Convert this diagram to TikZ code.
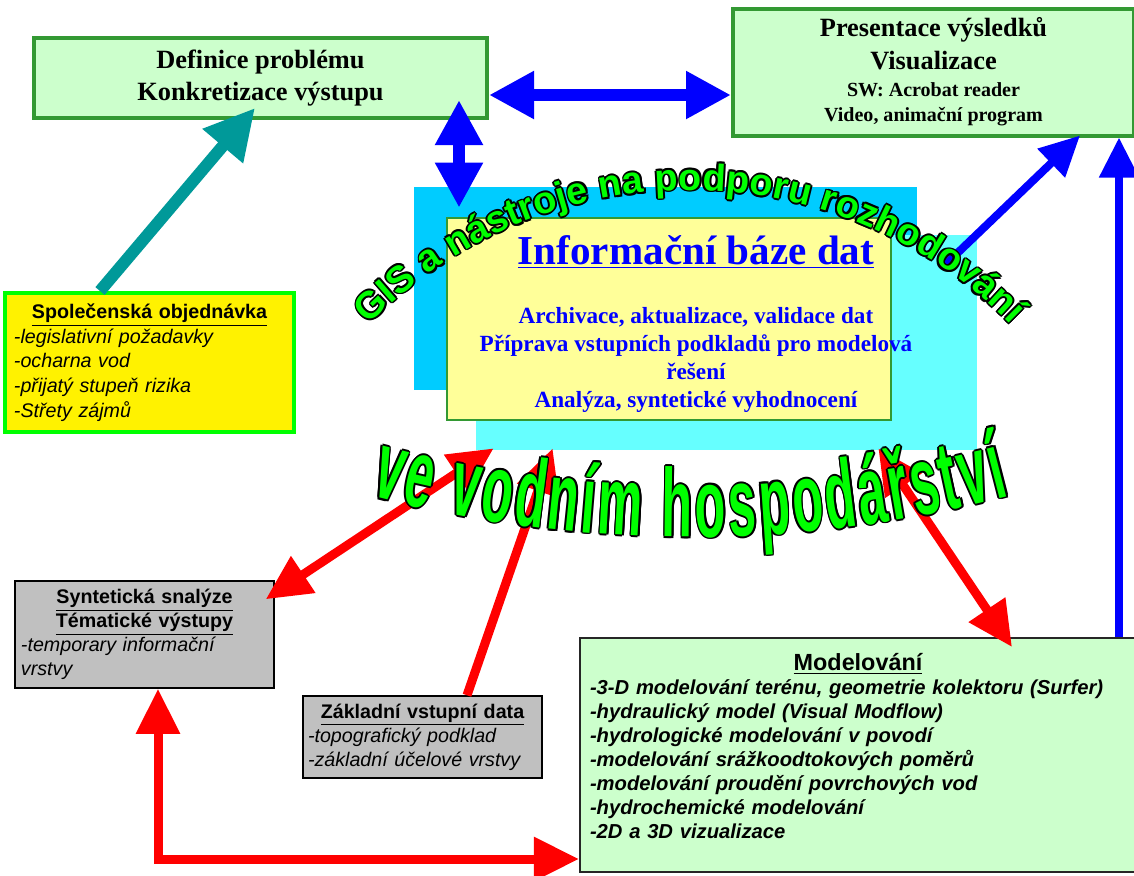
\documentclass[tikz,border=0pt]{standalone}
\usepackage{fontspec}
\setmainfont{Liberation Serif}
\setsansfont{Liberation Sans}
\newfontfamily\arcfont{Liberation Sans}
\newfontfamily\narrowfont[FakeStretch=0.52]{Liberation Sans}
\usetikzlibrary{arrows.meta,calc,decorations.text}
\definecolor{panelgreen}{RGB}{204,255,204}
\definecolor{framegreen}{RGB}{51,153,51}
\definecolor{vividgreen}{RGB}{0,255,0}
\definecolor{paleyellow}{RGB}{255,255,153}
\definecolor{skyblue}{RGB}{0,204,255}
\definecolor{lightcyan}{RGB}{102,255,255}
\definecolor{panelgrey}{RGB}{192,192,192}
\definecolor{tealgreen}{RGB}{0,153,153}
\tikzset{
  goalbox/.style={draw=framegreen, line width=0.8mm, fill=panelgreen, align=center,
    inner sep=0pt, font=\fontsize{15}{18.5}\selectfont\bfseries},
  greybox/.style={draw=black, line width=0.3mm, fill=panelgrey, align=left,
    inner xsep=1.2mm, inner ysep=0pt, font=\sffamily\fontsize{11.2}{13.7}\selectfont},
  backrect/.style={inner sep=0pt},
  bluelink/.style={draw=blue, line width=2.4mm, >={Triangle[length=9mm,width=9mm]}},
  thinblue/.style={draw=blue, line width=1.6mm, >={Triangle[length=8mm,width=7.6mm]}},
  redlink/.style={draw=red, line width=1.8mm, >={Triangle[length=9mm,width=8.4mm]}},
  teallink/.style={draw=tealgreen, line width=2.4mm, >={Triangle[length=10mm,width=10mm]}}
}
\newcommand\boxhead[1]{{\centering\bfseries\underline{#1}\par}}
\newcommand\swline{\fontsize{11.4}{13}\selectfont}
\newcommand\gisfont{\arcfont\bfseries\fontsize{21.5}{21.5}\selectfont}
\newcommand\vodfont{\narrowfont\bfseries\fontsize{55}{55}\selectfont}
\newcommand\gisline[1]{%
  \path[decorate, decoration={text along path, text align=fit to path,
    text={|\gisfont\color{#1}|GIS a nástroje na podporu rozhodování}}]
    (690,640) ++(-135.5:450) arc[start angle=-135.5, end angle=-44.5, radius=450];}
\newcommand\vodline[1]{%
  \path[decorate, decoration={text along path, text align=fit to path,
    text={|\vodfont\color{#1}|ve vodním hospodářství}}]
    (690,-724) ++(104.7:1261) arc[start angle=104.7, end angle=75.3, radius=1261];}

\begin{document}
\begin{tikzpicture}[x=0.2mm, y=-0.2mm]
\useasboundingbox (0,0) rectangle (1134,875);

% database block
\node[backrect, fill=skyblue, minimum width=100.6mm, minimum height=40.6mm] (base) at (665.5,288.5) {};
\node[backrect, fill=lightcyan, minimum width=100.2mm, minimum height=43mm] (halo) at (726.5,342.5) {};
\node[draw=framegreen, line width=0.4mm, fill=paleyellow, minimum width=88.8mm, minimum height=40.4mm]
  (info) at (669,319) {};
\node[align=center, inner sep=0pt, text=blue, font=\fontsize{13.2}{16}\selectfont\bfseries]
  (infotext) at ($(info)+(27,5)$) {{\fontsize{23.4}{26}\selectfont\underline{Informační báze dat}}\\[6.2mm]
  Archivace, aktualizace, validace dat\\
  Příprava vstupních podkladů pro modelová\\
  řešení\\
  Analýza, syntetické vyhodnocení};

% boxes
\node[goalbox, minimum width=90.6mm, minimum height=16mm] (def) at (260.5,78)
  {Definice problému\\Konkretizace výstupu};
\node[goalbox, minimum width=80.2mm, minimum height=25.4mm] (pres) at (933.5,72)
  {Presentace výsledků\\Visualizace\\[-3pt]\swline SW: Acrobat reader\\[-4pt]\swline Video, animační program};
\node[draw=vividgreen, line width=0.8mm, fill=yellow, minimum width=57.8mm, minimum height=27.8mm,
  text width=54.2mm, inner xsep=1.8mm, inner ysep=0pt, align=left,
  font=\sffamily\fontsize{11.2}{14}\selectfont] (soc) at (149.5,362.5)
  {\boxhead{Společenská objednávka}\itshape -legislativní požadavky\\-ocharna vod\\-přijatý stupeň rizika\\-Střety zájmů};
\node[greybox, minimum width=51.8mm, minimum height=21.4mm, text width=49.4mm, inner xsep=1.2mm] (syn) at (144.5,634.5)
  {{\centering\bfseries\underline{Syntetická snalýze}\\\underline{Tématické výstupy}\par}\itshape -temporary informační\\vrstvy};
\node[greybox, minimum width=47.8mm, minimum height=16.4mm, text width=45.8mm, inner xsep=1mm] (zakl) at (422.5,737)
  {\boxhead{Základní vstupní data}\itshape -topografický podklad\\-základní účelové vrstvy};
\node[draw=black!85, line width=0.4mm, fill=panelgreen, minimum width=111.2mm, minimum height=46.8mm,
  text width=107.2mm, inner xsep=2mm, inner ysep=0pt, align=left,
  font=\sffamily\bfseries\fontsize{11.5}{13.7}\selectfont] (model) at (858,755)
  {{\centering\fontsize{13.3}{15}\selectfont\underline{Modelování}\par}\itshape -3-D modelování terénu, geometrie kolektoru (Surfer)\\
  -hydraulický model (Visual Modflow)\\
  -hydrologické modelování v povodí\\
  -modelování srážkoodtokových poměrů\\
  -modelování proudění povrchových vod\\
  -hydrochemické modelování\\
  -2D a 3D vizualizace\\[-3.4pt]\mbox{}};

% connectors
\coordinate (hz) at ($(def.east)+(0,17)$);
\coordinate (vtop) at ($(def.south east)+(-30,-20)$);
\coordinate (rv) at ($(pres.south east)+(-17,0)$);
\coordinate (elb) at ($(model.south west)+(0,-14)$);
\draw[teallink,->] ($(soc.north)+(-49.5,0)$) -- ($(def.south)+(-5.5,-12)$);
\draw[bluelink,<->] (hz) -- (hz -| pres.west);
\draw[bluelink,<->] (vtop) -- ($(vtop |- base.north)+(0,21)$);
\draw[thinblue,->] ($(halo.north east)+(-32,30)$) -- ($(pres.south east)+(-56,-2)$);
\draw[thinblue,->] (rv |- model.north) -- (rv);
\draw[redlink,<->] ($(syn.north east)+(-9,19)$) -- ($(halo.south west)+(18,-2)$);
\draw[redlink,->] ($(zakl.north)+(44.5,0)$) -- ($(halo.south west)+(77,-2)$);
\draw[redlink,<->] ($(halo.south east)+(-99,-2)$) -- ($(model.north)+(154,10)$);
\draw[redlink,<->] ($(syn.south)+(13.5,0)$) |- (elb);

% arched titles
\foreach \dx/\dy in {-1.8/0,1.8/0,0/-1.8,0/1.8,-1.3/-1.3,1.3/1.3,-1.3/1.3,1.3/-1.3}{
  \begin{scope}[shift={(\dx,\dy)}]
    \gisline{black}
    \vodline{black}
  \end{scope}
}
\gisline{vividgreen}
\vodline{vividgreen}
\end{tikzpicture}
\end{document}
